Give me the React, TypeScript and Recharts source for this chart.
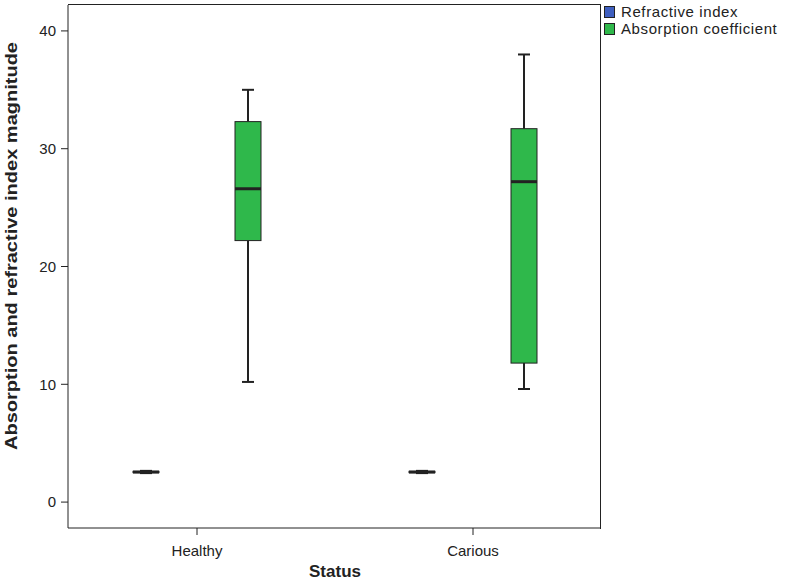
import React from "react";
import { ComposedChart, Bar, XAxis, YAxis } from "recharts";

// categories and box statistics
const categories = ["Healthy", "Carious"];

const refMin = [2.46, 2.46];
const refQ1 = [2.5, 2.5];
const refMedian = [2.55, 2.55];
const refQ3 = [2.61, 2.61];
const refMax = [2.65, 2.65];

const absMin = [10.2, 9.6];
const absQ1 = [22.2, 11.8];
const absMedian = [26.6, 27.2];
const absQ3 = [32.3, 31.7];
const absMax = [35.0, 38.0];

const yTicks = [0, 10, 20, 30, 40];

const BLUE = "#3f5fbf";
const GREEN = "#2fb84b";
const INK = "#222";
const FONT = "'Liberation Sans', Arial, sans-serif";

const data = categories.map((name, i) => ({
  name,
  refBox: [refQ1[i], refQ3[i]],
  absBox: [absQ1[i], absQ3[i]],
  ref: { min: refMin[i], q1: refQ1[i], median: refMedian[i], q3: refQ3[i], max: refMax[i] },
  abs: { min: absMin[i], q1: absQ1[i], median: absMedian[i], q3: absQ3[i], max: absMax[i] },
}));

// box + whiskers, scaled from the bar's own pixel height
const boxShape = (key: "ref" | "abs", fill: string) => (props: any) => {
  const { x, y, width, height, payload } = props;
  const s = payload[key];
  const top = Math.min(y, y + height);
  const h = Math.abs(height);
  const ppu = h / (s.q3 - s.q1);
  const bottom = top + h;
  const yMax = top - (s.max - s.q3) * ppu;
  const yMin = bottom + (s.q1 - s.min) * ppu;
  const yMed = top + (s.q3 - s.median) * ppu;
  const cx = x + width / 2;
  const cap = 6;
  return (
    <g>
      <line x1={cx} x2={cx} y1={yMax} y2={top} stroke={INK} strokeWidth={2} />
      <line x1={cx} x2={cx} y1={bottom} y2={yMin} stroke={INK} strokeWidth={2} />
      <line x1={cx - cap} x2={cx + cap} y1={yMax} y2={yMax} stroke={INK} strokeWidth={2} />
      <line x1={cx - cap} x2={cx + cap} y1={yMin} y2={yMin} stroke={INK} strokeWidth={2} />
      <rect x={x} y={top} width={width} height={Math.max(h, 1)} fill={fill} stroke={INK} strokeWidth={1} />
      <line x1={x} x2={x + width} y1={yMed} y2={yMed} stroke={INK} strokeWidth={3} />
    </g>
  );
};

const legendItems = [
  { label: "Refractive index", color: BLUE },
  { label: "Absorption coefficient", color: GREEN },
];

export default function App() {
  return (
    <div style={{ position: "absolute", left: 0, top: 0, width: 785, height: 582, background: "#fff", fontFamily: FONT }}>
      <ComposedChart
        width={785}
        height={582}
        data={data}
        margin={{ top: 5, right: 184, bottom: 0, left: 0 }}
        barGap={76}
      >
        <XAxis
          dataKey="name"
          height={54}
          padding={{ left: -9, right: -10 }}
          stroke={INK}
          tickSize={7}
          tickMargin={10}
          tick={{ fill: INK, fontSize: 15, fontFamily: FONT }}
          label={{
            content: () => (
              <text x={335} y={577} textAnchor="middle" fill={INK} fontSize={17} fontWeight="bold" fontFamily={FONT}>
                Status
              </text>
            ),
          }}
        />
        <YAxis
          type="number"
          domain={[-2.2, 42.2]}
          ticks={yTicks}
          width={68}
          stroke={INK}
          tickSize={7}
          tickMargin={5}
          tick={{ fill: INK, fontSize: 15, fontFamily: FONT }}
          label={{
            content: () => (
              <text
                x={17}
                y={246}
                transform="rotate(-90 17 246)"
                textAnchor="middle"
                fill={INK}
                fontSize={17}
                fontWeight="bold"
                fontFamily={FONT}
                textLength={408}
                lengthAdjust="spacingAndGlyphs"
              >
                Absorption and refractive index magnitude
              </text>
            ),
          }}
        />
        <Bar dataKey="refBox" barSize={26} fill={BLUE} shape={boxShape("ref", BLUE)} isAnimationActive={false} />
        <Bar dataKey="absBox" barSize={26} fill={GREEN} shape={boxShape("abs", GREEN)} isAnimationActive={false} />
      </ComposedChart>
      {/* top and right edges of the plot frame */}
      <div
        style={{
          position: "absolute",
          left: 68,
          top: 4,
          width: 532,
          height: 524,
          borderTop: `1px solid ${INK}`,
          borderRight: `1px solid ${INK}`,
          pointerEvents: "none",
        }}
      />
      <div style={{ position: "absolute", left: 604, top: 3, fontSize: 15, color: INK, lineHeight: "17px", letterSpacing: 0.6 }}>
        {legendItems.map((it) => (
          <div key={it.label} style={{ display: "flex", alignItems: "center", whiteSpace: "nowrap", height: 17 }}>
            <span
              style={{
                display: "inline-block",
                width: 9,
                height: 10,
                background: it.color,
                border: `1px solid ${INK}`,
                marginRight: 6,
              }}
            />
            {it.label}
          </div>
        ))}
      </div>
    </div>
  );
}
